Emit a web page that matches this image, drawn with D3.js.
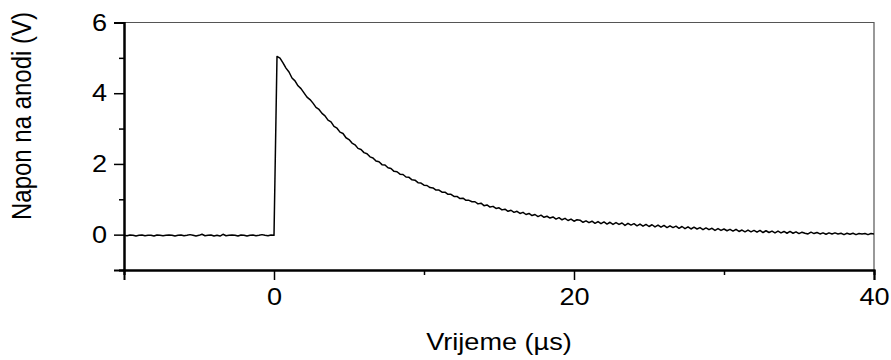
<!DOCTYPE html>
<html>
<head>
    <meta charset="utf-8">
    <title>Napon na anodi</title>
    <style>
        body { margin: 0; background: #fff; }
        text { font-family: Arial, "Liberation Sans", sans-serif; fill: #000; }
    </style>
    <script src="https://d3js.org/d3.v7.min.js"></script>
</head>
<body>
<script>
  // time grid of the scope trace (us)
  var tStart = -10;
  var tStep = 0.2;

  // voltage on the anode (V), one value per time step
  var baseline = [
    -0.02, -0.03, -0.01, -0.02, -0.04, -0.02, -0.01, -0.03, -0.02, -0.02,
    -0.04, -0.01, -0.02, -0.03, -0.02, -0.01, -0.02, -0.04, -0.02, -0.01,
    -0.03, -0.02, 0.00, -0.02, -0.04, -0.02, 0.01, -0.03, -0.02, -0.01,
    -0.04, -0.02, -0.04, 0.01, -0.03, -0.02, -0.01, -0.02, -0.04, -0.01,
    -0.02, -0.04, -0.02, -0.01, -0.03, -0.02, 0.00, -0.02, -0.03, -0.01,
    -0.02
  ];
  var pulse = [
    5.04,
    4.99, 4.86, 4.71, 4.60, 4.43,
    4.35, 4.21, 4.13, 4.01, 3.89,
    3.82, 3.72, 3.60, 3.54, 3.43,
    3.36, 3.24, 3.19, 3.06, 3.01,
    2.90, 2.86, 2.74, 2.69, 2.59,
    2.54, 2.44, 2.41, 2.32, 2.29,
    2.20, 2.17, 2.08, 2.06, 1.98,
    1.97, 1.89, 1.87, 1.79, 1.78,
    1.71, 1.70, 1.63, 1.62, 1.55,
    1.54, 1.47, 1.46, 1.40, 1.39,
    1.33, 1.32, 1.26, 1.26, 1.20,
    1.20, 1.14, 1.14, 1.08, 1.08,
    1.02, 1.03, 0.97, 0.97, 0.93,
    0.93, 0.87, 0.89, 0.82, 0.84,
    0.78, 0.80, 0.74, 0.76, 0.70,
    0.72, 0.66, 0.69, 0.63, 0.66,
    0.60, 0.63, 0.57, 0.60, 0.54,
    0.57, 0.51, 0.55, 0.49, 0.52,
    0.47, 0.50, 0.44, 0.48, 0.42,
    0.46, 0.40, 0.44, 0.38, 0.42,
    0.41, 0.35, 0.39, 0.34, 0.38,
    0.32, 0.37, 0.31, 0.36, 0.30,
    0.35, 0.29, 0.34, 0.29, 0.33,
    0.26, 0.32, 0.27, 0.31, 0.25,
    0.30, 0.24, 0.29, 0.23, 0.28,
    0.22, 0.27, 0.21, 0.26, 0.20,
    0.25, 0.20, 0.24, 0.18, 0.23,
    0.17, 0.22, 0.16, 0.21, 0.16,
    0.20, 0.14, 0.19, 0.14, 0.18,
    0.12, 0.17, 0.12, 0.16, 0.11,
    0.15, 0.10, 0.15, 0.09, 0.13,
    0.08, 0.13, 0.08, 0.12, 0.07,
    0.12, 0.06, 0.11, 0.06, 0.10,
    0.05, 0.10, 0.05, 0.09, 0.04,
    0.09, 0.04, 0.08, 0.03, 0.07,
    0.04, 0.02, 0.07, 0.03, 0.06,
    0.02, 0.05, 0.01, 0.05, 0.02,
    0.05, 0.02, 0.04, 0.00, 0.04,
    0.01, 0.04, 0.00, 0.03, 0.02,
    0.03, 0.00, 0.03, 0.02
  ];
  var volts = baseline.concat(pulse);

  var xMajor = [0, 20, 40];
  var xMinor = [-10, 10, 30];
  var yMajor = [0, 2, 4, 6];
  var yMinor = [-1, 1, 3, 5];

  var w = 891, h = 360;
  var pLeft = 124, pRight = 874, pTop = 22.5, pBottom = 270;
  var stretch = 1.13; // the original text is a bit wider than plain Arial

  var svg = d3.select("body").append("svg")
              .attr("width", w)
              .attr("height", h);

  var x = d3.scaleLinear().domain([-10, 40]).range([pLeft, pRight]);
  var y = d3.scaleLinear().domain([-1, 6]).range([pBottom, pTop]);

  var data = volts.map(function (v, i) {
    return { t: tStart + i * tStep, v: v };
  });

  // thin frame on top and right
  svg.append("path")
     .attr("d", "M" + pLeft + "," + pTop + "H" + pRight + "V" + pBottom)
     .attr("fill", "none")
     .attr("stroke", "#555")
     .attr("stroke-width", 1.2);

  // trace
  var line = d3.line()
               .x(function (d) { return x(d.t); })
               .y(function (d) { return y(d.v); });
  svg.append("path")
     .datum(data)
     .attr("d", line)
     .attr("fill", "none")
     .attr("stroke", "#000")
     .attr("stroke-width", 1.5)
     .attr("stroke-linejoin", "round");

  function styleAxis(g) {
    g.selectAll("path.domain").attr("stroke", "#000").attr("stroke-width", 2);
    g.selectAll(".tick line").attr("stroke", "#000").attr("stroke-width", 1.5);
    g.selectAll(".tick text").style("font-size", "24px")
     .style("font-family", "Arial, 'Liberation Sans', sans-serif");
  }

  // minor ticks, no labels
  svg.append("g")
     .attr("transform", "translate(0," + pBottom + ")")
     .call(d3.axisBottom(x).tickValues(xMinor).tickSize(5).tickFormat(""))
     .call(styleAxis);
  svg.append("g")
     .attr("transform", "translate(" + pLeft + ",0)")
     .call(d3.axisLeft(y).tickValues(yMinor).tickSize(5).tickFormat(""))
     .call(styleAxis);

  // major ticks with labels
  svg.append("g")
     .attr("transform", "translate(0," + pBottom + ")")
     .call(d3.axisBottom(x).tickValues(xMajor).tickSize(10).tickPadding(8).tickFormat(d3.format("d")))
     .call(styleAxis)
     .selectAll(".tick text")
     .attr("transform", "scale(" + stretch + ",1)");
  svg.append("g")
     .attr("transform", "translate(" + pLeft + ",0)")
     .call(d3.axisLeft(y).tickValues(yMajor).tickSize(10).tickPadding(7).tickFormat(d3.format("d")))
     .call(styleAxis)
     .selectAll(".tick text")
     .attr("x", -17 / stretch)
     .attr("transform", "scale(" + stretch + ",1)");

  // axis titles
  svg.append("text")
     .attr("transform", "translate(" + (pLeft + pRight) / 2 + ",350) scale(" + stretch + ",1)")
     .attr("text-anchor", "middle")
     .style("font-size", "24px")
     .text("Vrijeme (µs)");

  svg.append("text")
     .attr("transform", "translate(31,116) scale(" + stretch + ",1) rotate(-90)")
     .attr("text-anchor", "middle")
     .style("font-size", "24px")
     .text("Napon na anodi (V)");
</script>
</body>
</html>
